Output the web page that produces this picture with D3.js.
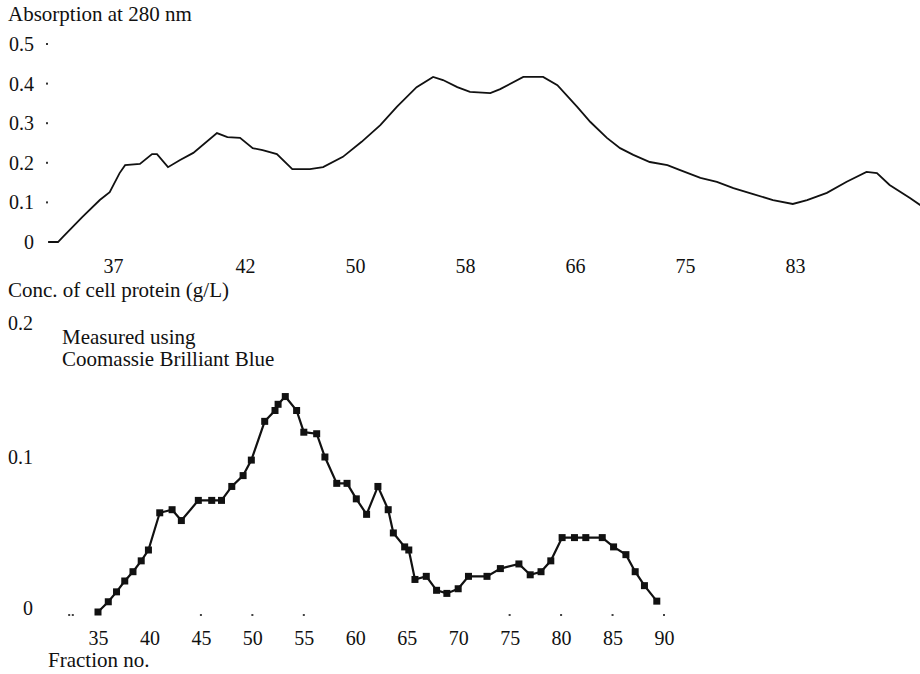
<!DOCTYPE html>
<html>
<head>
<meta charset="utf-8">
<script src="https://cdn.jsdelivr.net/npm/d3@7"></script>
<style>
  body { margin: 0; background: #fff; }
  text { font-family: "Liberation Serif", "Times New Roman", serif; fill: #111; }
</style>
</head>
<body>
<div id="chart"></div>
<script>
// top panel: absorbance trace (x in elution units, labelled with fraction numbers)
const topPos = [2.1, 3.0, 3.45, 5.2, 6.8, 7.7, 8.6, 9.1, 10.45, 11.55, 12.0, 13.0, 14.1, 15.3, 17.45, 18.4, 19.55, 20.7, 21.6, 22.9, 24.3, 25.9, 27.1, 28.9, 30.6, 32.3, 33.8, 35.6, 37.1, 38.0, 39.3, 40.45, 42.3, 43.2, 45.3, 47.1, 48.4, 50.2, 51.4, 52.9, 54.1, 55.3, 56.8, 58.4, 59.5, 61.4, 62.9, 64.4, 66.2, 68.0, 69.8, 71.1, 72.9, 74.7, 76.5, 77.45, 78.6, 80.45, 81.4];
const topAbs = [0, 0, 0.013, 0.063, 0.106, 0.126, 0.174, 0.194, 0.197, 0.222, 0.222, 0.189, 0.207, 0.225, 0.275, 0.265, 0.263, 0.237, 0.232, 0.222, 0.184, 0.184, 0.189, 0.215, 0.253, 0.295, 0.341, 0.391, 0.417, 0.409, 0.391, 0.379, 0.376, 0.386, 0.417, 0.417, 0.396, 0.341, 0.303, 0.263, 0.237, 0.220, 0.202, 0.194, 0.182, 0.162, 0.152, 0.136, 0.121, 0.106, 0.096, 0.106, 0.124, 0.152, 0.177, 0.174, 0.144, 0.111, 0.093];
const topTickPos = [8, 20, 30, 40, 50, 60, 70];
const topTickLabels = ["37", "42", "50", "58", "66", "75", "83"];
const topYTicks = [0, 0.1, 0.2, 0.3, 0.4, 0.5];

// bottom panel: protein concentration per fraction
const fractions = [35.0, 36.0, 36.8, 37.6, 38.4, 39.2, 39.9, 41.0, 42.2, 43.1, 44.75, 46.05, 47.0, 48.0, 49.1, 49.9, 51.2, 52.2, 52.5, 53.2, 54.3, 55.0, 56.25, 57.05, 58.2, 59.2, 60.1, 61.1, 62.2, 63.2, 63.7, 64.8, 65.2, 65.8, 66.9, 67.9, 68.9, 70.0, 71.0, 72.8, 74.1, 75.9, 77.0, 78.05, 79.0, 80.1, 81.3, 82.4, 84.0, 85.1, 86.3, 87.2, 88.1, 89.3];
const protein = [0, 0.0066, 0.013, 0.020, 0.026, 0.033, 0.040, 0.064, 0.066, 0.059, 0.072, 0.072, 0.072, 0.081, 0.088, 0.098, 0.123, 0.130, 0.134, 0.139, 0.130, 0.116, 0.115, 0.100, 0.083, 0.083, 0.073, 0.063, 0.081, 0.066, 0.051, 0.042, 0.040, 0.021, 0.023, 0.014, 0.012, 0.015, 0.023, 0.023, 0.028, 0.031, 0.024, 0.026, 0.033, 0.048, 0.048, 0.048, 0.048, 0.042, 0.037, 0.026, 0.017, 0.007];
const botXTicks = [35, 40, 45, 50, 55, 60, 65, 70, 75, 80, 85, 90];
const botXDots = [32.2, 32.55, 45, 50, 55, 75, 80, 85, 90];
const botYTicks = [0, 0.1, 0.2];

const width = 920, height = 674;

const svg = d3.select('#chart').append('svg')
    .attr('width', width).attr('height', height);

// ---------- top chart ----------
const xTop = d3.scaleLinear().domain([0, 80]).range([25, 905]);
const yTop = d3.scaleLinear().domain([0, 0.5]).range([242, 44]);

svg.append('text').attr('x', 8).attr('y', 21)
    .style('font-size', '21px').text('Absorption at 280 nm');

const topYAxis = svg.append('g')
    .attr('transform', 'translate(47,0)')
    .call(d3.axisLeft(yTop).tickValues(topYTicks).tickSize(0).tickPadding(13)
      .tickFormat(d => d === 0 ? '0' : d3.format('.1f')(d)));
topYAxis.select('.domain').remove();
topYAxis.selectAll('text').style('font-size', '20px').style('font-family', '"Liberation Serif", serif');

svg.append('g').selectAll('rect')
    .data(topYTicks.filter(d => d > 0))
    .enter().append('rect')
    .attr('x', 46).attr('y', d => yTop(d) - 1)
    .attr('width', 2).attr('height', 2).attr('fill', '#333');

const topXAxis = svg.append('g')
    .attr('transform', 'translate(0,242)')
    .call(d3.axisBottom(xTop).tickValues(topTickPos).tickSize(0).tickPadding(17)
      .tickFormat((d, i) => topTickLabels[i]));
topXAxis.select('.domain').remove();
topXAxis.selectAll('text').style('font-size', '20px').style('font-family', '"Liberation Serif", serif');

const topLine = d3.line()
    .x((d, i) => xTop(topPos[i]))
    .y(d => yTop(d));

svg.append('path')
    .datum(topAbs)
    .attr('d', topLine)
    .attr('fill', 'none')
    .attr('stroke', '#111')
    .attr('stroke-width', 1.8);

// ---------- bottom chart ----------
const xBot = d3.scaleLinear().domain([35, 90]).range([98, 664]);
const yBot = d3.scaleLinear().domain([0, 0.1]).range([612, 457]);

svg.append('text').attr('x', 8).attr('y', 297)
    .style('font-size', '21px').text('Conc. of cell protein (g/L)');
svg.append('text').attr('x', 62).attr('y', 344)
    .style('font-size', '21px').text('Measured using');
svg.append('text').attr('x', 62).attr('y', 366)
    .style('font-size', '21px').text('Coomassie Brilliant Blue');

const botYAxis = svg.append('g')
    .attr('transform', 'translate(47,0)')
    .call(d3.axisLeft(yBot).tickValues(botYTicks).tickSize(0).tickPadding(14)
      .tickFormat(d => d === 0 ? '0' : d3.format('.1f')(d)));
botYAxis.select('.domain').remove();
botYAxis.selectAll('text').style('font-size', '20px').style('font-family', '"Liberation Serif", serif');
// the 0.2 label sits lower than its true level in the original
botYAxis.selectAll('.tick').filter(d => d === 0.2).select('text').attr('dy', '1.35em');
botYAxis.selectAll('.tick').filter(d => d === 0).select('text').attr('dy', '0.12em');

const botXAxis = svg.append('g')
    .attr('transform', 'translate(0,614)')
    .call(d3.axisBottom(xBot).tickValues(botXTicks).tickSize(0).tickPadding(17));
botXAxis.select('.domain').remove();
botXAxis.selectAll('text').style('font-size', '20px').style('font-family', '"Liberation Serif", serif');

svg.append('g').selectAll('rect')
    .data(botXDots)
    .enter().append('rect')
    .attr('x', d => xBot(d) - 1).attr('y', 614)
    .attr('width', 2).attr('height', 2).attr('fill', '#444');

svg.append('text').attr('x', 48).attr('y', 667)
    .style('font-size', '21px').text('Fraction no.');

const botLine = d3.line()
    .x((d, i) => xBot(fractions[i]))
    .y(d => yBot(d));

svg.append('path')
    .datum(protein)
    .attr('d', botLine)
    .attr('fill', 'none')
    .attr('stroke', '#111')
    .attr('stroke-width', 2.2);

svg.append('g').selectAll('rect')
    .data(protein)
    .enter().append('rect')
    .attr('x', (d, i) => xBot(fractions[i]) - 3.5)
    .attr('y', d => yBot(d) - 3.5)
    .attr('width', 7).attr('height', 7)
    .attr('fill', '#111');
</script>
</body>
</html>
